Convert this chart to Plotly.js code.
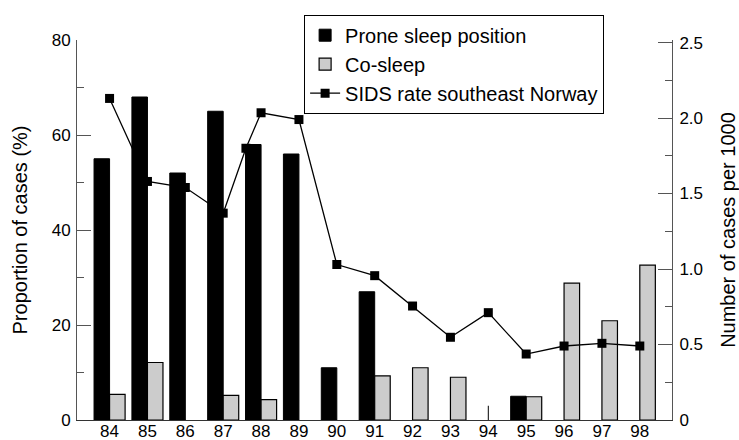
<!DOCTYPE html>
<html>
<head>
<meta charset="utf-8">
<script src="https://cdn.plot.ly/plotly-3.0.1.min.js"></script>
<style>html,body{margin:0;padding:0;background:#fff}#chart{width:739px;height:440px}</style>
</head>
<body>
<div id="chart"></div>
<script>
// Years (two-digit labels)
var years = [84, 85, 86, 87, 88, 89, 90, 91, 92, 93, 94, 95, 96, 97, 98];
var yearLabels = ["84","85","86","87","88","89","90","91","92","93","94","95","96","97","98"];
// Proportion of cases (%)
var prone = [55, 68, 52, 65, 58, 56, 11, 27, null, null, null, 5, null, null, null];
var cosleep = [5.4, 12.1, null, 5.2, 4.3, null, null, 9.3, 11.0, 9.0, null, 4.9, 28.8, 20.9, 32.6];
// SIDS rate per 1000 (includes an extra plotted point between 87 and 88)
var sidsYears = [84, 85, 86, 87, 87.6, 88, 89, 90, 91, 92, 93, 94, 95, 96, 97, 98];
var sidsRate = [2.13, 1.58, 1.54, 1.37, 1.80, 2.035, 1.99, 1.03, 0.956, 0.755, 0.548, 0.711, 0.437, 0.49, 0.508, 0.49];
// Stray short mark at 94
var strayX = [94, 94];
var strayY = [0, 3];
var rightTickVals = [0, 0.5, 1.0, 1.5, 2.0, 2.5];
var rightTickText = ["0", "0.5", "1.0", "1.5", "2.0", "2.5"];
var leftTickVals = [0, 20, 40, 60, 80];

var axisColor = "#555";
var font = "Liberation Sans, Arial, sans-serif";

var traces = [
  {type: "bar", x: years, y: prone, name: "Prone sleep position",
   marker: {color: "#000", line: {color: "#000", width: 1}}, yaxis: "y"},
  {type: "bar", x: years, y: cosleep, name: "Co-sleep",
   marker: {color: "#cccccc", line: {color: "#000", width: 1.2}}, yaxis: "y"},
  {type: "scatter", mode: "lines+markers", x: sidsYears, y: sidsRate, name: "SIDS rate southeast Norway",
   line: {color: "#000", width: 1.3}, marker: {symbol: "square", size: 9, color: "#000"}, yaxis: "y2"},
  {type: "scatter", mode: "lines", x: strayX, y: strayY, showlegend: false,
   line: {color: "#000", width: 1}, yaxis: "y", hoverinfo: "skip"}
];

var layout = {
  width: 739, height: 440,
  margin: {l: 77, r: 67, t: 40, b: 20},
  paper_bgcolor: "#fff", plot_bgcolor: "#fff",
  font: {family: font, size: 17, color: "#000"},
  barmode: "group", bargap: 0.18, bargroupgap: 0,
  showlegend: true,
  legend: {x: 0.3817, y: 1.0666, xanchor: "left", yanchor: "top",
    bordercolor: "#000", borderwidth: 1, bgcolor: "#fff",
    font: {family: font, size: 20, color: "#000"}, tracegroupgap: 0, itemwidth: 30},
  xaxis: {range: [83.14, 98.85], tickvals: years, ticktext: yearLabels,
    showline: true, linecolor: "#333", linewidth: 1, ticks: "", showgrid: false, zeroline: false,
    ticklabelstandoff: -4, tickfont: {size: 17}},
  yaxis: {range: [0, 80], tickvals: leftTickVals, ticks: "inside", ticklen: 14, tickcolor: axisColor, tickwidth: 1,
    showline: true, linecolor: axisColor, linewidth: 1, showgrid: false, zeroline: false,
    minor: {ticks: "inside", ticklen: 7, dtick: 10, tick0: 0, tickcolor: axisColor, showgrid: false},
    ticklabelstandoff: 2,
    title: {text: "Proportion of cases (%)", font: {size: 20}, standoff: 18},
    tickfont: {size: 17}},
  yaxis2: {overlaying: "y", side: "right", range: [0, 2.517], tickvals: rightTickVals, ticktext: rightTickText,
    ticks: "inside", ticklen: 14, tickcolor: axisColor, tickwidth: 1,
    showline: true, linecolor: axisColor, linewidth: 1, showgrid: false, zeroline: false,
    minor: {ticks: "inside", ticklen: 7, dtick: 0.25, tick0: 0, tickcolor: axisColor, showgrid: false},
    ticklabelstandoff: 3,
    title: {text: "Number of cases per 1000", font: {size: 20}, standoff: 18},
    tickfont: {size: 17}}
};

Plotly.newPlot("chart", traces, layout, {displayModeBar: false, staticPlot: true});
</script>
</body>
</html>
